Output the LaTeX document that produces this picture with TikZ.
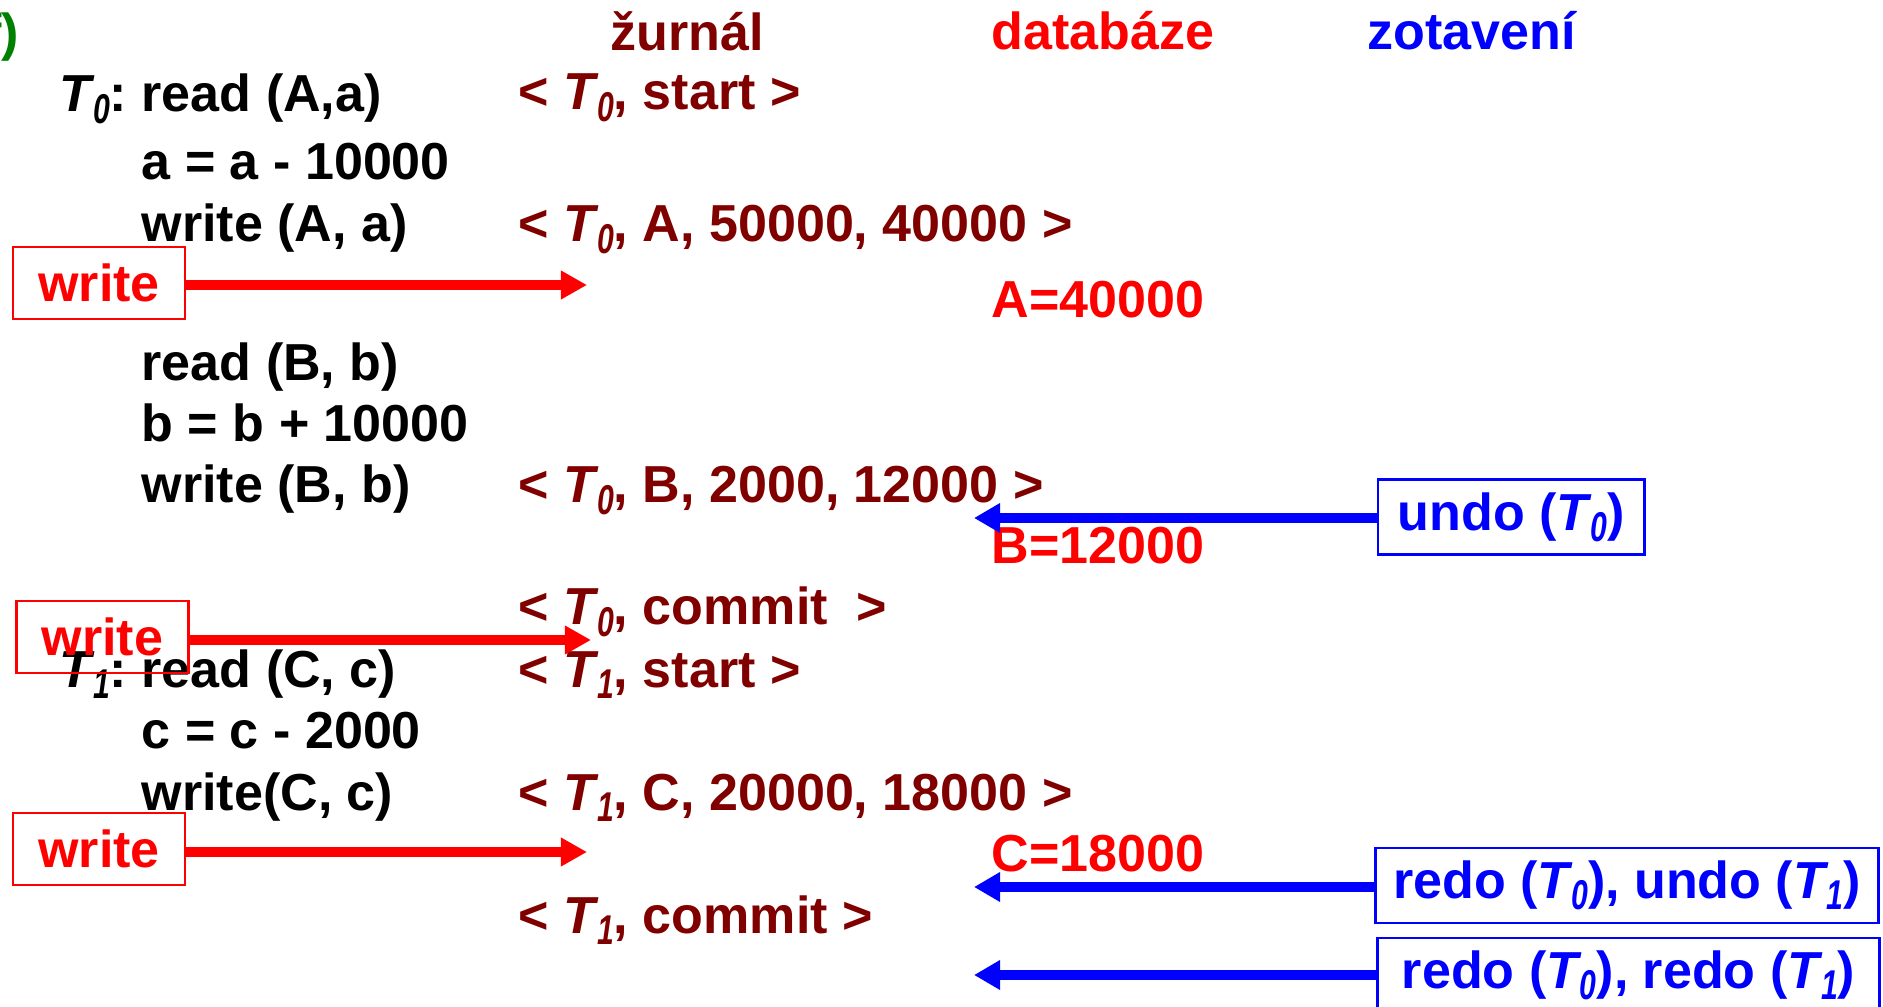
\documentclass[tikz,border=0pt]{standalone}
\usepackage{fontspec}
\usepackage{graphicx}
\setmainfont{Liberation Sans}
\usetikzlibrary{arrows.meta}
\definecolor{logred}{RGB}{128,0,0}
\definecolor{dbred}{RGB}{255,0,0}
\definecolor{recblue}{RGB}{0,0,255}
\definecolor{tagreen}{RGB}{0,128,0}
% transaction name: italic T with a narrow, lowered italic index
\newcommand{\tx}[1]{{\itshape T\kern0.5pt\raisebox{-3.2pt}{\scalebox{0.58}[0.8]{#1}}}}
\tikzset{
  txt/.style={inner sep=0pt, font=\fontsize{14.8}{18}\selectfont\bfseries},
  code/.style={txt, anchor=base west},
  tname/.style={txt, anchor=base east},
  logentry/.style={txt, anchor=base west, text=logred},
  dbval/.style={txt, anchor=base west, text=dbred},
  wrbox/.style={txt, draw=dbred, text=dbred, line width=0.8pt,
    minimum width=1.72cm, minimum height=0.72cm},
  recbox/.style={txt, draw=recblue, text=recblue, line width=0.8pt,
    minimum height=0.75cm},
  wrarrow/.style={draw=dbred, line width=2.85pt,
    -{Triangle[length=0.26cm,width=0.27cm]}},
  recarrow/.style={draw=recblue, line width=2.85pt,
    -{Triangle[length=0.26cm,width=0.28cm]}}
}
\begin{document}
\begin{tikzpicture}[x=0.01cm, y=-0.01cm]
\clip (0,0) rectangle (1883,1007);

% column headings
\node[txt, anchor=base east, text=tagreen] (tag) at (20,51) {f)};
\node[logentry] (hlog) at (610,51) {žurnál};
\node[dbval] (hdb) at (991,50) {databáze};
\node[txt, anchor=base west, text=recblue] (hrec) at (1367,50) {zotavení};

% transaction T0
\node[tname] (t0) at (128,112) {\tx{0}:};
\node[code] (c1) at (141,112) {read (A,a)};
\node[code] (c2) at (141,180) {a = a - 10000};
\node[code] (c3) at (141,242) {write (A, a)};
\node[code] (c4) at (141,381) {read (B, b)};
\node[code] (c5) at (141,442) {b = b + 10000};
\node[code] (c6) at (141,503) {write (B, b)};

% transaction T1
\node[tname] (t1) at (128,687) {\tx{1}:};
\node[code] (c7) at (141,687) {read (C, c)};
\node[code] (c8) at (141,748) {c = c - 2000};
\node[code] (c9) at (141,810) {write(C, c)};

% log records
\node[logentry] (l1) at (518,110) {< \tx{0}, start >};
\node[logentry] (l2) at (518,242) {< \tx{0}, A, 50000, 40000 >};
\node[logentry] (l3) at (518,503) {< \tx{0}, B, 2000, 12000 >};
\node[logentry] (l4) at (518,625) {< \tx{0}, commit\ \ >};
\node[logentry] (l5) at (518,687) {< \tx{1}, start >};
\node[logentry] (l6) at (518,810) {< \tx{1}, C, 20000, 18000 >};
\node[logentry] (l7) at (518,933) {< \tx{1}, commit >};

% database values
\node[dbval] (d1) at (991,318) {A=40000};
\node[dbval] (d2) at (991,564) {B=12000};
\node[dbval] (d3) at (991,871) {C=18000};

% crash points: writes to the log
\node[wrbox] (wb1) at (99,283) {write};
\node[wrbox] (wb2) at (102.5,637) {write};
\node[wrbox] (wb3) at (99,849) {write};
\coordinate (w1tip) at (587,285);
\coordinate (w2tip) at (591,640);
\coordinate (w3tip) at (587,852);
\draw[wrarrow] (wb1.east |- w1tip) -- (w1tip);
\draw[wrarrow] (wb2.east |- w2tip) -- (w2tip);
\draw[wrarrow] (wb3.east |- w3tip) -- (w3tip);

% recovery actions
\node[recbox, minimum width=2.66cm] (r1) at (1511,517) {undo (\tx{0})};
\node[recbox, minimum width=5.02cm] (r2) at (1627,885.5) {redo (\tx{0}), undo (\tx{1})};
\node[recbox, minimum width=5.01cm] (r3) at (1628.5,975.5) {redo (\tx{0}), redo (\tx{1})};
\coordinate (r1tip) at (974,518);
\coordinate (r2tip) at (974,887);
\coordinate (r3tip) at (974,975);
\draw[recarrow] (r1.west |- r1tip) -- (r1tip);
\draw[recarrow] (r2.west |- r2tip) -- (r2tip);
\draw[recarrow] (r3.west |- r3tip) -- (r3tip);
\end{tikzpicture}
\end{document}
